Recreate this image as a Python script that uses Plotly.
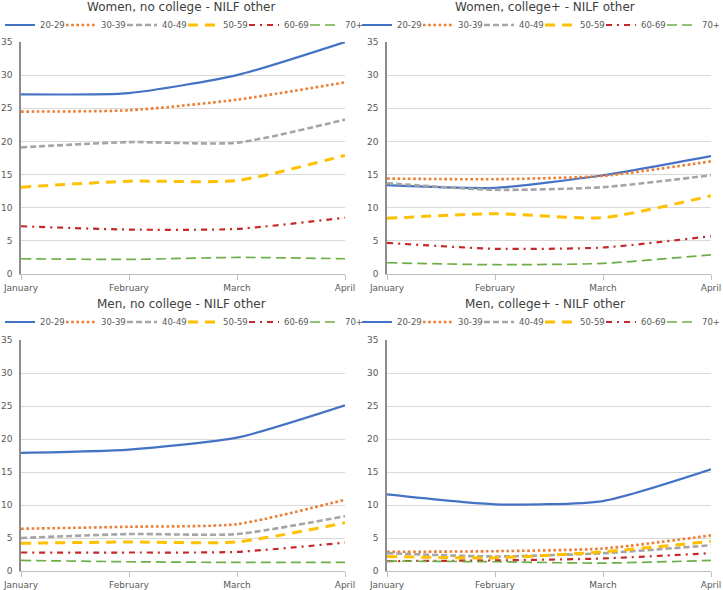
import plotly.graph_objects as go

months = ["January", "February", "March", "April"]
ages = ["20-29", "30-39", "40-49", "50-59", "60-69", "70+"]
titles = ["Women, no college - NILF other", "Women, college+ - NILF other",
          "Men, no college - NILF other", "Men, college+ - NILF other"]

women_nocollege = [
    [27.1, 27.3, 30.0, 35.0],
    [24.5, 24.7, 26.3, 28.9],
    [19.1, 19.9, 19.8, 23.3],
    [13.1, 14.0, 14.1, 17.9],
    [7.2, 6.7, 6.8, 8.5],
    [2.3, 2.2, 2.5, 2.3],
]
women_college = [
    [13.4, 13.0, 14.9, 17.8],
    [14.4, 14.3, 14.8, 17.0],
    [13.7, 12.7, 13.1, 14.9],
    [8.4, 9.1, 8.5, 11.8],
    [4.7, 3.8, 4.0, 5.7],
    [1.7, 1.4, 1.6, 2.9],
]
men_nocollege = [
    [17.9, 18.4, 20.2, 25.1],
    [6.4, 6.7, 7.1, 10.8],
    [5.0, 5.6, 5.6, 8.3],
    [4.2, 4.4, 4.4, 7.3],
    [2.8, 2.8, 2.9, 4.3],
    [1.6, 1.4, 1.3, 1.3],
]
men_college = [
    [11.6, 10.1, 10.6, 15.4],
    [2.9, 3.0, 3.4, 5.4],
    [2.7, 2.2, 2.7, 3.9],
    [2.2, 2.0, 2.9, 4.5],
    [1.5, 1.6, 1.9, 2.7],
    [1.5, 1.4, 1.2, 1.6],
]
panels = [women_nocollege, women_college, men_nocollege, men_college]

colors = ["#4472C4", "#ED7D31", "#A5A5A5", "#FFC000", "#C62828", "#70AD47"]
widths = [2.2, 2.6, 2.6, 3.0, 2.2, 1.7]
dashes = ["solid", "2.6px,2.6px", "6px,3px", "10px,7px", "6px,5px,2px,5px", "10px,5px"]

W, H = 723, 590
FONT = "DejaVu Sans"
# plot-area pixel boxes (left, right, top, bottom)
boxes = [(21, 345, 42, 274), (387, 711, 42, 274), (21, 345, 340, 571), (387, 711, 340, 571)]
title_pos = [(181, 7), (545, 7), (181, 304), (545, 304)]
legend_pos = [(0, 25, "left"), (723, 25, "right"), (0, 322, "left"), (723, 322, "right")]

fig = go.Figure()
layout = dict(
    width=W, height=H, margin=dict(l=0, r=0, t=0, b=0, autoexpand=False),
    paper_bgcolor="white", plot_bgcolor="white",
    font=dict(family=FONT, size=9, color="#595959"),
    annotations=[],
)

for p, data in enumerate(panels):
    sfx = "" if p == 0 else str(p + 1)
    leg = "legend" if p == 0 else "legend" + str(p + 1)
    for i, age in enumerate(ages):
        fig.add_trace(go.Scatter(
            x=months, y=data[i], name=age, mode="lines",
            line=dict(color=colors[i], width=widths[i], dash=dashes[i],
                      shape="spline", smoothing=0.6),
            xaxis="x" + sfx, yaxis="y" + sfx, legend=leg,
            hoverinfo="skip",
        ))
    l, r, t, b = boxes[p]
    layout["xaxis" + sfx] = dict(
        domain=[l / W, r / W], anchor="y" + sfx, type="category", automargin=False,
        range=[0, 3], showgrid=False, showline=True, linecolor="#BFBFBF",
        linewidth=1, ticks="outside", ticklen=5, tickcolor="#BFBFBF",
        tickfont=dict(size=9, color="#595959"), zeroline=False, fixedrange=True,
    )
    layout["yaxis" + sfx] = dict(
        domain=[1 - b / H, 1 - t / H], anchor="x" + sfx, automargin=False,
        range=[0, 35], dtick=5, showgrid=True, gridcolor="#D9D9D9", gridwidth=1,
        showline=True, linecolor="#8C8C8C", linewidth=1.5,
        ticks="outside", ticklen=5, tickcolor="rgba(0,0,0,0)",
        tickfont=dict(size=9, color="#595959"), zeroline=False, fixedrange=True,
    )
    lx, ly, anc = legend_pos[p]
    layout[leg] = dict(
        orientation="h", x=lx / W, xanchor=anc, y=1 - ly / H, yanchor="middle",
        font=dict(size=8.5, color="#595959", family=FONT),
        entrywidth=16, entrywidthmode="pixels", bgcolor="rgba(0,0,0,0)",
        itemclick=False, itemdoubleclick=False,
    )
    tx, ty = title_pos[p]
    layout["annotations"].append(dict(
        text=titles[p], xref="paper", yref="paper", x=tx / W, y=1 - ty / H,
        xanchor="center", yanchor="middle", showarrow=False,
        font=dict(size=12, color="#404040", family=FONT),
    ))

fig.update_layout(**layout)
fig.write_html("out.html", config={"displayModeBar": False},
               post_script="document.body.style.margin='0';document.body.style.overflow='hidden';")
